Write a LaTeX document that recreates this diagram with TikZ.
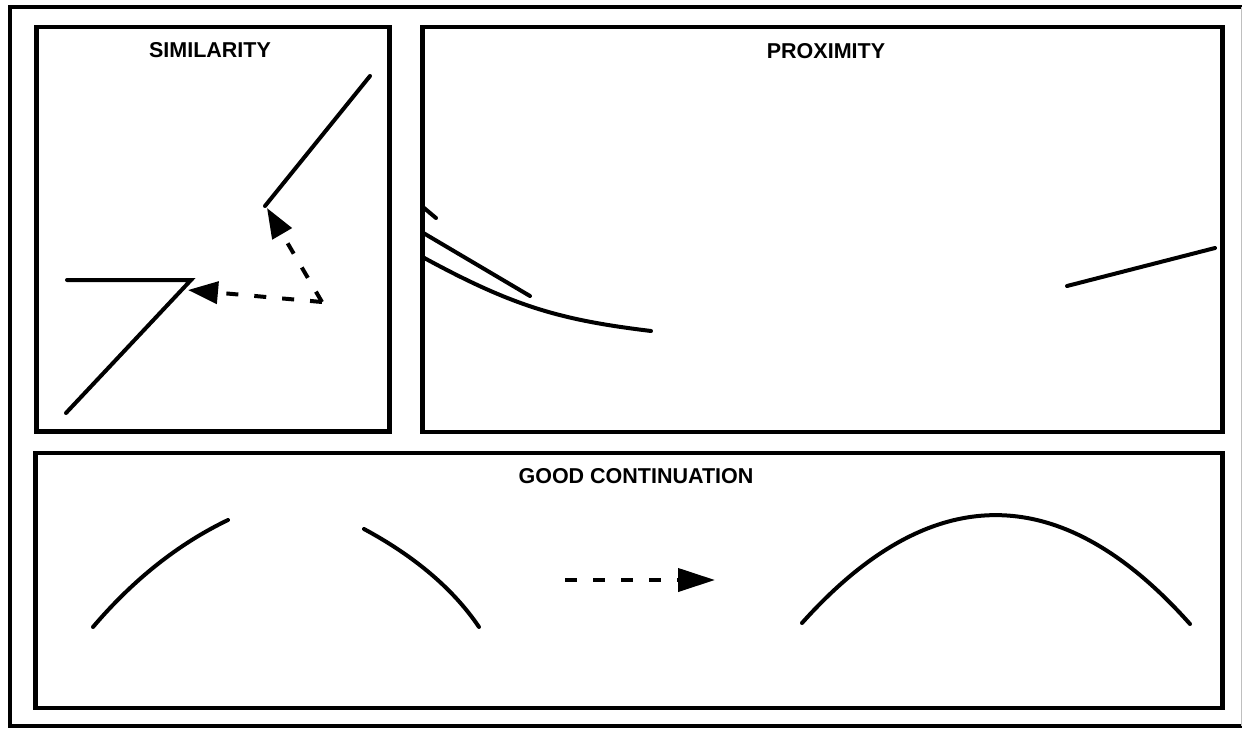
\documentclass[tikz,border=0pt]{standalone}
\usepackage{fontspec}
\setmainfont{Liberation Sans}
\usetikzlibrary{arrows.meta}
\begin{document}
\begin{tikzpicture}[x=1pt,y=-1pt,
  frame/.style={line width=4.2pt},
  stroke/.style={line width=4pt, line cap=round, line join=miter},
  dashline/.style={line width=4pt, dash pattern=on 12pt off 16pt},
  title/.style={font=\fontsize{21.5}{21.5}\selectfont\bfseries, anchor=base, inner sep=0pt},
  tipS/.style={-{Triangle[length=30pt,width=22pt]}},
  tipG/.style={-{Triangle[length=37pt,width=23pt]}},
]
\useasboundingbox (0,0) rectangle (1242,729);
% outer frame
\draw[line width=4pt] (1242,7) -- (9.5,7) -- (9.5,725.5) -- (1242,725.5);
\draw[line width=1pt, gray!50] (1241,7) -- (1241,725.5);
% panels
\draw[frame] (36.5,27) rectangle (389.5,431.5);
\draw[frame] (422.5,27) rectangle (1222.5,432);
\draw[frame] (35.5,453) rectangle (1222.5,708);
% titles
\node[title] (tsim) at (210,57) {SIMILARITY};
\node[title] (tprox) at (826,58) {PROXIMITY};
\node[title] (tgood) at (636,483) {GOOD CONTINUATION};
% similarity
\coordinate (s1) at (370,76);
\coordinate (s2) at (265,206);
\coordinate (s3) at (67,280);
\coordinate (s4) at (191,280);
\coordinate (s5) at (66,413);
\coordinate (sc) at (322,302);
\draw[stroke] (s1) -- (s2);
\draw[stroke] (s3) -- (s4) -- (s5);
\draw[dashline, tipS] (sc) -- (188,290);
\draw[dashline, tipS] (sc) -- (267,208);
% proximity
\draw[stroke] (422.5,206.7) -- (436,218);
\draw[stroke] (422.5,232.5) -- (530,296);
\draw[stroke] (422.5,257) .. controls (514,307) and (561,320) .. (651,331);
\draw[stroke] (1067,286) -- (1215,248);
% good continuation
\draw[stroke] (93,627) .. controls (133,580) and (178,544) .. (228,520);
\draw[stroke] (364,529) .. controls (416,557) and (454,590) .. (479,627);
\coordinate (ga) at (565,580);
\coordinate (gb) at (715,580);
\draw[dashline, tipG] (ga) -- (gb);
\draw[stroke] (802,623) .. controls (931,479) and (1061,479) .. (1190,624);
\end{tikzpicture}
\end{document}
